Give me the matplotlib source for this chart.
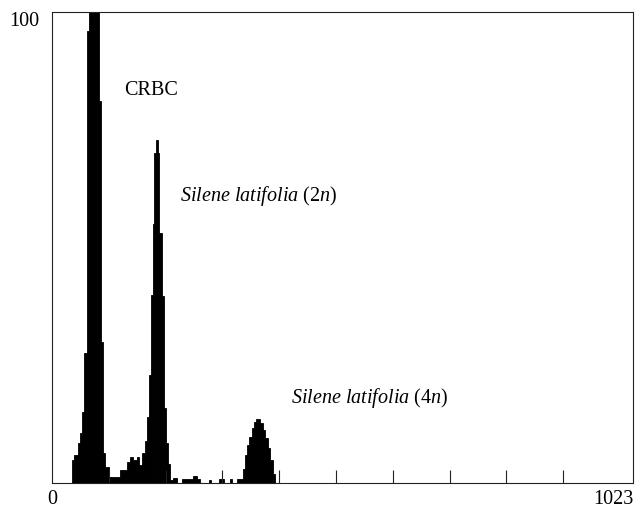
import matplotlib
matplotlib.use('Agg')
import matplotlib.pyplot as plt
import numpy as np

# Histograma de citometria: bordes de canal y alturas (% del maximo)
bin_edges = [35, 39, 45, 49, 53, 57, 61, 65, 72, 82,
             86, 89, 94, 100, 104, 120, 132, 137, 142, 149,
             153, 158, 164, 167, 170, 174, 177, 180, 183, 186,
             189, 193, 197, 200, 204, 208, 213, 220, 228, 248,
             255, 261, 276, 280, 294, 303, 313, 317, 326, 336,
             340, 343, 347, 352, 356, 360, 366, 371, 375, 380,
             384, 389, 393]
counts = [4.9, 6, 8.5, 10.6, 15, 27.6, 96, 130, 118, 81,
          30, 6.4, 3.5, 1.3, 1.3, 2.7, 4.5, 5.6, 4.9, 5.6,
          3.8, 6.4, 9, 14, 23, 40, 55, 70, 72.8, 70,
          53, 39.6, 16, 8.5, 4, 0.6, 1, 0, 0.8, 1.5,
          0.8, 0, 0.6, 0, 0.8, 0, 0.8, 0, 0.8, 3,
          6, 8, 9.8, 11.7, 13, 13.6, 12.7, 11.2, 9.5, 7.4,
          4.9, 2]

x_ticks = [100, 200, 300, 400, 500, 600, 700, 800, 900]

# Etiquetas de los picos (texto, x, y)
peak_labels = [
    ('CRBC', 127, 83.4),
    (r'$\it{Silene\ latifolia}$ (2$\it{n}$)', 225, 61),
    (r'$\it{Silene\ latifolia}$ (4$\it{n}$)', 421, 18),
]

plt.rcParams['font.family'] = ['Liberation Serif', 'DejaVu Serif']
plt.rcParams['mathtext.fontset'] = 'custom'
plt.rcParams['mathtext.it'] = 'Liberation Serif:italic'
plt.rcParams['mathtext.rm'] = 'Liberation Serif'

fig = plt.figure(figsize=(6.35, 5.09), dpi=100)
ax = fig.add_axes([0.0819, 0.0511, 0.915, 0.9253])

# barras contiguas, con borde negro para que no queden huecos blancos
edges = np.array(bin_edges)
ax.bar(edges[:-1], counts, width=np.diff(edges), align='edge',
       color='black', edgecolor='black', linewidth=0.6)

ax.set_xlim(0, 1023)
ax.set_ylim(0, 100)
ax.set_xticks(x_ticks)
ax.set_xticklabels([])
ax.set_yticks([])
ax.tick_params(axis='x', direction='in', length=9.5, width=0.8, color='#222222')
for s in ax.spines.values():
    s.set_linewidth(0.8)
    s.set_color('#222222')

for txt, x, y in peak_labels:
    ax.text(x, y, txt, fontsize=14.5, va='center', ha='left')

# Etiquetas de los extremos de los ejes
ax.text(0, -1.5, '0', fontsize=14.5, ha='center', va='top')
ax.text(1023, -1.5, '1023', fontsize=14.5, ha='right', va='top')
ax.text(-0.021, 1.0, '100', fontsize=14.5, ha='right', va='top', transform=ax.transAxes)

fig.savefig('out.png', dpi=100)
